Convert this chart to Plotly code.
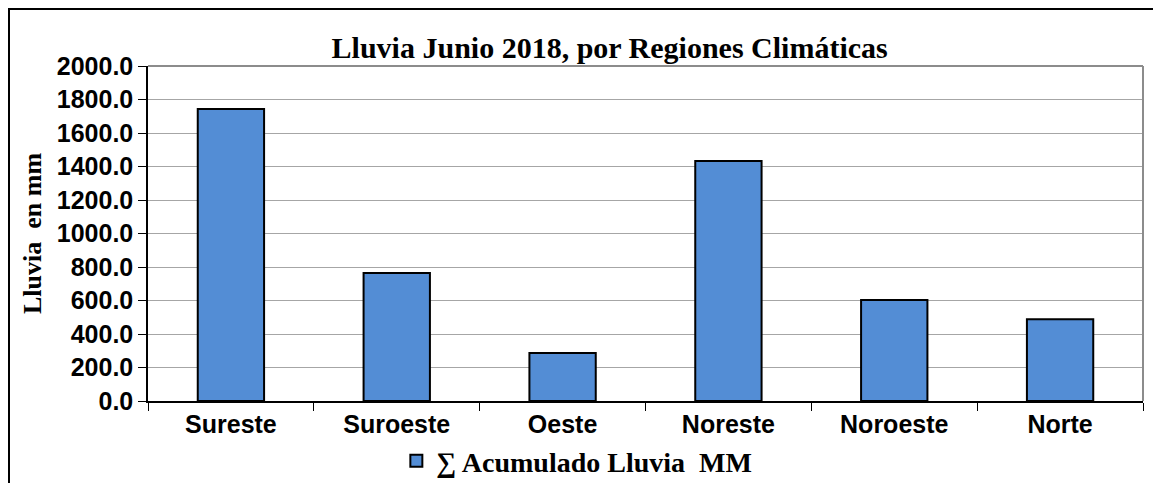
import plotly.graph_objects as go

regiones = ["Sureste", "Suroeste", "Oeste", "Noreste", "Noroeste", "Norte"]
lluvia_mm = [1743.0, 764.0, 287.0, 1433.0, 603.0, 488.0]
y_ticks = [0, 200, 400, 600, 800, 1000, 1200, 1400, 1600, 1800, 2000]

serif = "Liberation Serif, Times New Roman, serif"
sans = "Liberation Sans, Arial, sans-serif"

fig = go.Figure()
fig.add_trace(go.Bar(
    x=regiones,
    y=lluvia_mm,
    name="∑ Acumulado Lluvia  MM",
    marker=dict(color="#538dd5", line=dict(color="black", width=2)),
))

# page body has an 8px margin, so the figure is sized to fit inside the window
fig.update_layout(
    width=1153,
    height=475,
    margin=dict(l=140, r=18, t=58, b=82, autoexpand=False),
    plot_bgcolor="white",
    paper_bgcolor="white",
    bargap=0.6,
    title=dict(
        text="Lluvia Junio 2018, por Regiones Climáticas",
        font=dict(family=serif, size=30, color="black", weight="bold"),
        x=0.464, xref="paper", xanchor="center",
        y=1 - 39 / 475, yref="container", yanchor="middle",
    ),
    showlegend=True,
    legend=dict(
        orientation="h",
        x=0.431, xanchor="center",
        y=-0.179, yanchor="middle",
        font=dict(family=serif, size=28, color="black", weight="bold"),
        itemwidth=30,
    ),
)

fig.update_xaxes(
    automargin=False,
    showline=True, linecolor="black", linewidth=1.5,
    ticks="outside", ticklen=8, tickcolor="black",
    tickson="boundaries",
    tickfont=dict(family=sans, size=25, color="black", weight="bold"),
)
fig.update_yaxes(
    automargin=False,
    range=[0, 2000],
    tickvals=y_ticks,
    tickformat=".1f",
    showline=True, linecolor="black", linewidth=1.5,
    ticks="outside", ticklen=8, tickcolor="black",
    showgrid=True, gridcolor="#a6a6a6", gridwidth=1,
    tickfont=dict(family=sans, size=25, color="black", weight="bold"),
    title=dict(text="Lluvia  en mm", standoff=8,
               font=dict(family=serif, size=26, color="black", weight="bold")),
)

# gray top/right plot border
fig.add_shape(type="line", xref="paper", yref="paper", x0=0, x1=1, y0=1, y1=1,
              line=dict(color="#8c8c8c", width=2))
fig.add_shape(type="line", xref="paper", yref="paper", x0=1, x1=1, y0=0, y1=1,
              line=dict(color="#8c8c8c", width=2))
# outer chart frame (left and top edges visible, others run off the page)
fig.add_shape(type="rect", xref="paper", yref="paper",
              x0=-0.1397, x1=1.03, y0=-0.27, y1=1.170,
              line=dict(color="black", width=2), layer="below")

fig.write_html("out.html")
